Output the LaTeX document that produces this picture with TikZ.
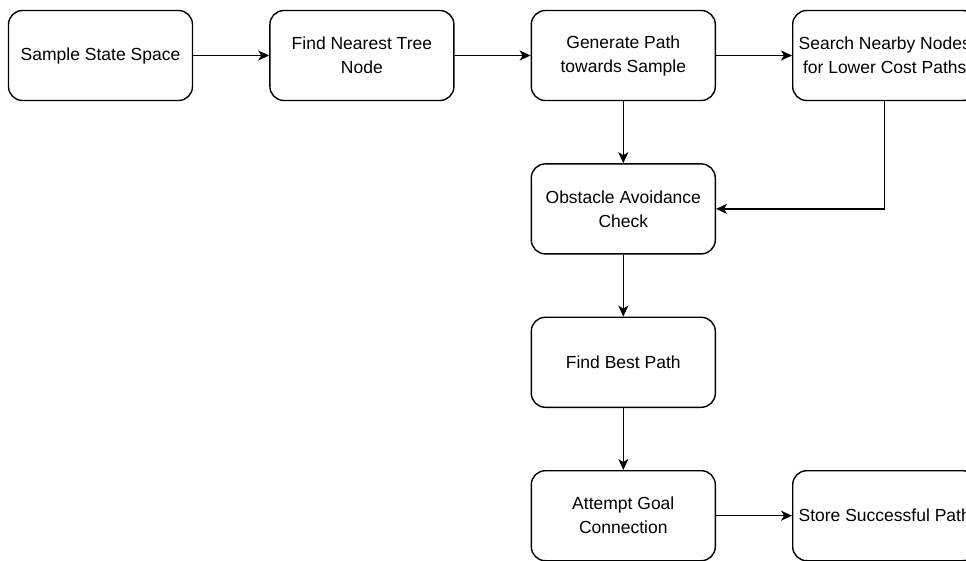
\documentclass[tikz,border=0pt]{standalone}
\usepackage{fontspec}
\setmainfont{Liberation Sans}
\usetikzlibrary{positioning}
\usetikzlibrary{arrows.meta}

\begin{document}
\begin{tikzpicture}[
                          >={Stealth[length=11pt, width=10pt, inset=3pt]},
                          stepnode/.style={rectangle, draw, rounded corners=14pt, line width=1.4pt, minimum width=184pt, minimum height=90pt, inner sep=2pt, align=center, font=\fontsize{17.5}{24}\selectfont},
                          link/.style={->, line width=1.4pt},
                          node distance=62pt and 76pt,
                      ]
                      \clip (0pt,0pt) rectangle (966pt,560pt);
                      % Nodes
                      \node[stepnode]        (sample)     at (100.5pt,504.5pt)      {Sample State Space};
                      \node[stepnode]        (nearest)    [right=of sample]         {Find Nearest Tree\\Node};
                      \node[stepnode]        (generate)   [right=of nearest]        {Generate Path\\towards Sample};
                      \node[stepnode]        (search)     [right=of generate]       {Search Nearby Nodes\\for Lower Cost Paths};

                      \node[stepnode]        (obstacle)   [below=of generate]       {Obstacle Avoidance\\Check};
                      \node[stepnode]        (best)       [below=of obstacle]       {Find Best Path};
                      \node[stepnode]        (goal)       [below=of best]           {Attempt Goal\\Connection};
                      \node[stepnode]        (store)      [right=of goal]           {Store Successful Path};

                      %Lines
                      \draw[link] (sample.east) -- (nearest.west);
                      \draw[link] (nearest.east) -- (generate.west);
                      \draw[link] (generate.east) -- (search.west);
                      \draw[link] (generate.south) -- (obstacle.north);
                      \draw[link] (search.south) |- (obstacle.east);
                      \draw[link] (obstacle.south) -- (best.north);
                      \draw[link] (best.south) -- (goal.north);
                      \draw[link] (goal.east) -- (store.west);
                  \end{tikzpicture}
\end{document}
